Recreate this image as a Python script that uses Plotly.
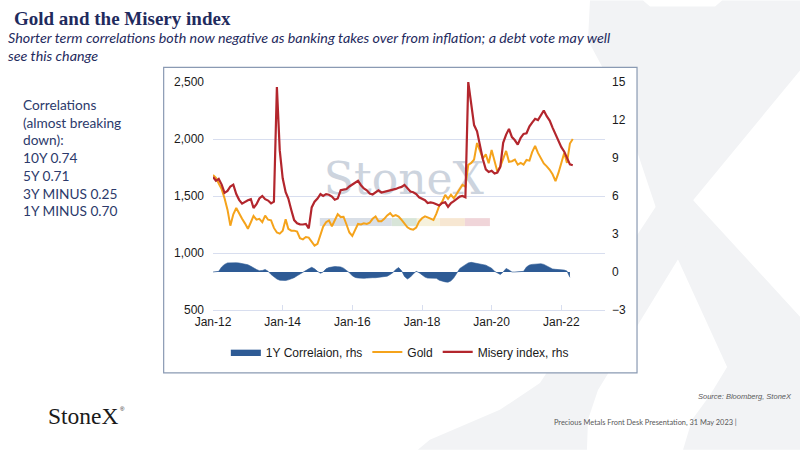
import plotly.graph_objects as go
import pandas as pd

# ---------------- data ----------------
months = pd.date_range("2012-01-01", periods=125, freq="MS")

gold = [1685, 1660, 1610, 1560, 1480, 1380, 1240, 1340, 1395, 1345,
        1300, 1260, 1212, 1270, 1325, 1292, 1300, 1270, 1328, 1292,
        1287, 1220, 1180, 1170, 1195, 1295, 1212, 1196, 1196, 1188,
        1130, 1120, 1140, 1135, 1100, 1065, 1080, 1150, 1230, 1270,
        1285, 1235, 1290, 1340, 1315, 1318, 1250, 1180, 1150, 1212,
        1255, 1250, 1260, 1255, 1265, 1300, 1320, 1278, 1278, 1300,
        1330, 1350, 1322, 1333, 1320, 1290, 1255, 1225, 1210, 1205,
        1222, 1275, 1305, 1322, 1312, 1302, 1290, 1345, 1415, 1450,
        1510, 1475, 1511, 1480, 1520, 1554, 1598, 1583, 1773, 1790,
        1820, 1965, 1889, 1831, 1865, 1787, 1903, 1816, 1714, 1758,
        1830, 1895, 1800, 1805, 1820, 1775, 1790, 1775, 1816, 1810,
        1885, 1940, 1878, 1825, 1785, 1760, 1730, 1690, 1630, 1700,
        1780, 1880, 1790, 1960, 2000]

misery = [7.5, 7.2, 7.35, 6.9, 6.25, 6.4, 6.75, 6.9, 6.15, 5.7,
          5.4, 5.55, 5.66, 5.75, 5.05, 5.35, 5.8, 6.0, 5.75, 5.64,
          5.42, 5.55, 14.6, 9.6, 7.4, 6.3, 5.8, 4.9, 4.1, 3.85,
          3.76, 3.75, 3.8, 3.45, 5.1, 5.55, 5.8, 6.15, 6.0, 6.15,
          6.1, 5.95, 5.7, 5.8, 6.45, 6.5, 6.55, 6.75, 6.9, 7.05,
          7.2, 6.85, 6.6, 6.45, 6.2, 6.12, 6.3, 6.45, 6.28, 6.33,
          6.42, 6.46, 6.5, 6.56, 6.65, 6.72, 6.88, 6.6, 6.35, 6.3,
          6.15, 5.9, 5.78, 5.67, 5.45, 5.5, 5.45, 5.35, 5.25, 5.45,
          5.5, 5.15, 5.45, 5.6, 5.75, 5.95, 6.0, 5.9, 15.0, 13.2,
          11.6, 11.1, 9.9, 8.9, 8.1, 7.9, 8.0, 7.78, 7.85, 8.3,
          10.2, 10.85, 11.3, 10.65, 10.4, 10.06, 10.6, 10.9, 10.95, 11.5,
          11.8, 12.1, 12.0, 12.4, 12.75, 12.3, 11.95, 11.4, 10.9, 10.35,
          9.85, 9.5, 9.0, 8.5, 8.43]

corr_1y = [0, 0, 0.05, 0.4, 0.6, 0.72, 0.74, 0.74, 0.73, 0.71,
           0.68, 0.63, 0.57, 0.45, 0.3, 0.2, 0.1, 0.12, 0.2, 0.05,
           -0.2, -0.4, -0.55, -0.65, -0.68, -0.67, -0.62, -0.55, -0.45, -0.3,
           -0.15, -0.02, 0.15, 0.25, 0.37, 0.25, 0.05, -0.1, 0, 0.25,
           0.35, 0.42, 0.43, 0.42, 0.4, 0.3, 0.15, -0.05, -0.3, -0.43,
           -0.47, -0.5, -0.5, -0.48, -0.45, -0.45, -0.45, -0.42, -0.4, -0.37,
           -0.33, -0.2, -0.05, 0.2, 0.35, 0.1, -0.35, -0.55, -0.4, -0.15,
           0.05, -0.05, -0.25, -0.4, -0.48, -0.5, -0.5, -0.5, -0.65, -0.74,
           -0.78, -0.8, -0.7, -0.45, -0.1, 0.27, 0.42, 0.57, 0.72, 0.76,
           0.72, 0.62, 0.58, 0.56, 0.54, 0.42, 0.3, 0.05, -0.1, -0.2,
           0.0, 0.28, 0.16, 0, 0, 0, 0, 0.05, 0.4, 0.55,
           0.6, 0.62, 0.62, 0.65, 0.6, 0.5, 0.35, 0.24, 0.21, 0.2,
           0.17, 0.15, 0.08, -0.42, None]

left_ticks = [500, 1000, 1500, 2000, 2500]
right_ticks = [-3, 0, 3, 6, 9, 12, 15]

series_names = ["1Y Correlaion, rhs", "Gold", "Misery index, rhs"]

title_text = "Gold and the Misery index"
subtitle_lines = ["Shorter term correlations both now negative as banking takes over from inflation; a debt vote may well",
                  "see this change"]
side_lines = ["Correlations", "(almost breaking", "down):", "10Y 0.74", "5Y 0.71",
              "3Y MINUS 0.25", "1Y MINUS 0.70"]
source_text = "Source: Bloomberg, StoneX"
footer_text = "Precious Metals Front Desk Presentation, 31 May 2023 |"

# ---------------- layout geometry (px) ----------------
W, H = 800, 450
PL, PR, PT, PB = 213.3, 605.0, 81.7, 310.0
x_start, x_end = pd.Timestamp("2012-01-01"), pd.Timestamp("2023-04-04")


def fx(x):
    return (x - PL) / (PR - PL)


def fy(y):
    return (PB - y) / (PB - PT)


def path_from(pts):
    return "M " + " L ".join(f"{fx(x):.4f},{fy(y):.4f}" for x, y in pts) + " Z"


NAVY = "#1f2b5e"
TEXT_NAVY = "#2c3a6b"
GRID = "#d8deef"
AXIS_FONT = dict(family="Liberation Sans, Arial", size=12, color="#1a1a1a")

fig = go.Figure()

# watermark logo text inside the chart (drawn first -> under the lines)
wm_date = x_start + (x_end - x_start) * fx(404)
wm_val = 2500 - (183 - PT) * (2000 / (PB - PT))
fig.add_trace(go.Scatter(
    x=[wm_date], y=[wm_val], mode="text", text=["StoneX"],
    textfont=dict(family="DejaVu Serif", size=44, color="#cdd4de"),
    hoverinfo="skip", showlegend=False))

fig.add_trace(go.Scatter(
    x=months, y=corr_1y, name=series_names[0], yaxis="y2",
    mode="lines", fill="tozeroy", line=dict(color="#2e5b95", width=0.6),
    fillcolor="#2e5b95"))
fig.add_trace(go.Scatter(
    x=months, y=gold, name=series_names[1], mode="lines",
    line=dict(color="#f5a31b", width=2)))
fig.add_trace(go.Scatter(
    x=months, y=misery, name=series_names[2], yaxis="y2", mode="lines",
    line=dict(color="#b3262d", width=2.2)))

# ---------------- shapes ----------------
WM = "#f2f3f5"
shapes = []
big_x = [(590, 0), (643, 0), (650, 6), (715, 6), (722, 0), (800, 0), (800, 70), (693, 200),
         (800, 317), (800, 450), (683, 450), (692, 420), (710, 395), (727, 367),
         (660, 220), (640, 160), (620, 100), (596, 55), (588, 40)]
thin_leg = [(693, 200), (660, 200), (540, 383), (500, 410), (430, 440), (418, 450),
            (587, 450), (588, 420), (598, 390), (705, 215)]
for pts in (big_x, thin_leg):
    shapes.append(dict(type="path", xref="paper", yref="paper", path=path_from(pts),
                       fillcolor=WM, line=dict(width=0), layer="below"))
# chart frame
shapes.append(dict(type="rect", xref="paper", yref="paper",
                   x0=fx(164), x1=fx(637), y0=fy(373), y1=fy(67),
                   fillcolor="white", line=dict(color="#8a9ab3", width=1.2), layer="below"))
# watermark colour bar
bar_cols = [(320, 392, "#d9dfe7"), (392, 417, "#d8e5d8"), (417, 440, "#f6f1dc"),
            (440, 465, "#f7e7d2"), (465, 490, "#f0d5d9")]
for x0, x1, c in bar_cols:
    shapes.append(dict(type="rect", xref="x domain", yref="y domain",
                       x0=fx(x0), x1=fx(x1), y0=fy(226), y1=fy(218),
                       fillcolor=c, line=dict(width=0), layer="below"))

# ---------------- annotations ----------------
ann = []
ann.append(dict(text=f"<b>{title_text}</b>", x=fx(12), y=fy(18), xref="paper", yref="paper",
                xanchor="left", yanchor="middle", showarrow=False,
                font=dict(family="Liberation Serif", size=19, color=NAVY)))
for i, line in enumerate(subtitle_lines):
    ann.append(dict(text=f"<i>{line}</i>", x=fx(6), y=fy(37.5 + 18 * i), xref="paper", yref="paper",
                    xanchor="left", yanchor="middle", showarrow=False,
                    font=dict(family="Lato", size=14.3, color=NAVY)))
for i, line in enumerate(side_lines):
    ann.append(dict(text=line, x=fx(21), y=fy(104 + 17.8 * i), xref="paper", yref="paper",
                    xanchor="left", yanchor="middle", showarrow=False,
                    font=dict(family="Lato", size=13.7, color=TEXT_NAVY)))
ann.append(dict(text="StoneX", x=fx(46), y=fy(416), xref="paper", yref="paper",
                xanchor="left", yanchor="middle", showarrow=False,
                font=dict(family="Liberation Serif", size=23.5, color="#1a1a1a")))
ann.append(dict(text="®", x=fx(118), y=fy(409), xref="paper", yref="paper",
                xanchor="left", yanchor="middle", showarrow=False,
                font=dict(family="Liberation Sans", size=6, color="#1a1a1a")))
ann.append(dict(text=f"<i>{source_text}</i>", x=fx(794), y=fy(397), xref="paper", yref="paper",
                xanchor="right", yanchor="middle", showarrow=False,
                font=dict(family="Liberation Sans", size=7.5, color="#595959")))
ann.append(dict(text=footer_text, x=fx(552), y=fy(423), xref="paper", yref="paper",
                xanchor="left", yanchor="middle", showarrow=False,
                font=dict(family="Lato", size=7.4, color="#595959")))

fig.update_layout(
    width=W, height=H,
    margin=dict(l=PL, r=W - PR, t=PT, b=H - PB, autoexpand=False),
    paper_bgcolor="white", plot_bgcolor="rgba(0,0,0,0)",
    showlegend=True,
    legend=dict(orientation="h", x=fx(400), xanchor="center", y=fy(352), yanchor="middle",
                font=AXIS_FONT, bgcolor="rgba(0,0,0,0)", traceorder="normal"),
    xaxis=dict(type="date", range=[x_start, x_end], tick0="2012-01-01", dtick="M24",
               tickformat="%b-%y", showgrid=False, showline=True, linecolor=GRID, linewidth=1.2,
               ticks="inside", ticklen=5, tickcolor=GRID, tickfont=AXIS_FONT, zeroline=False),
    yaxis=dict(range=[500, 2500], tickvals=left_ticks, tickformat=",", showgrid=True,
               gridcolor=GRID, gridwidth=1.2, zeroline=False, showline=False, ticks="",
               tickfont=AXIS_FONT, ticklabelstandoff=8),
    yaxis2=dict(range=[-3, 15], tickvals=right_ticks, overlaying="y", side="right",
                showgrid=False, zeroline=False, showline=False, ticks="",
                tickfont=AXIS_FONT, ticklabelstandoff=6),
    shapes=shapes, annotations=ann,
)

fig.write_html("out.html", config={"displayModeBar": False},
               post_script="document.body.style.margin='0';document.body.style.overflow='hidden';")
